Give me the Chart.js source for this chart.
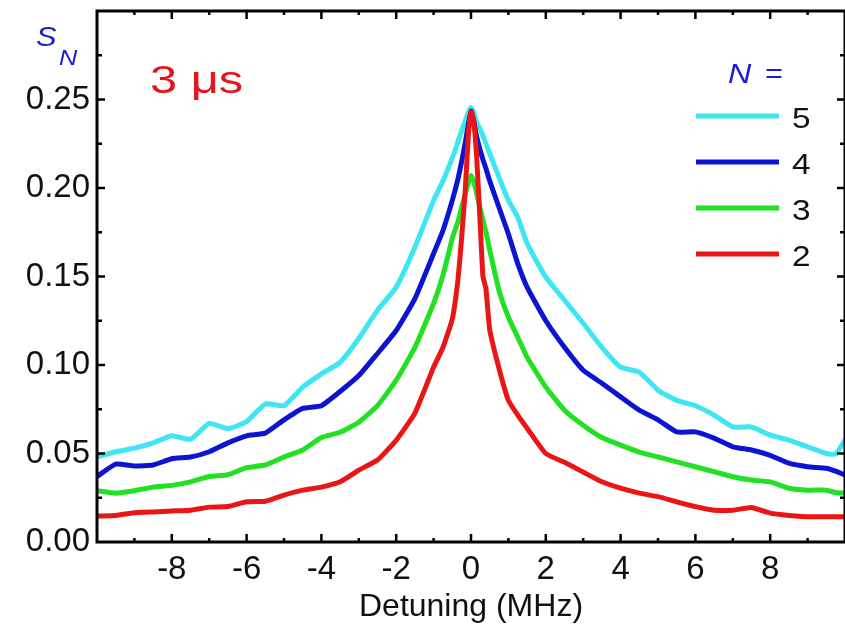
<!DOCTYPE html>
<html>
<head>
<meta charset="utf-8">
<script src="https://cdn.jsdelivr.net/npm/chart.js@4/dist/chart.umd.min.js"></script>
<style>
  html, body { margin: 0; padding: 0; background: #fff; overflow: hidden; }
  #wrap { width: 845px; height: 626px; position: relative; }
</style>
</head>
<body>
<div id="wrap"><canvas id="chart"></canvas></div>
<script>
// Detuning (MHz), shared by all curves
const detuning = [-10, -9.5, -9, -8.5, -8, -7.5, -7, -6.5, -6, -5.5, -5, -4.5, -4, -3.5, -3, -2.5, -2, -1.5, -1,
  -0.75, -0.5, -0.35, -0.25, -0.15, -0.07, 0, 0.07, 0.15, 0.25, 0.32, 0.4, 0.5, 0.75, 1, 1.25, 1.5,
  2, 2.5, 3, 3.5, 4, 4.5, 5, 5.5, 6, 6.5, 7, 7.5, 8, 8.5, 9, 9.5, 9.75, 10];

// S_N for N = 2, 3, 4, 5
const sN2 = [0.0147, 0.015, 0.0165, 0.017, 0.0175, 0.018, 0.0197, 0.020, 0.0227, 0.023, 0.0265, 0.0293, 0.031, 0.034, 0.0406, 0.0463, 0.0575, 0.0728, 0.0988,
  0.110, 0.126, 0.148, 0.172, 0.200, 0.230, 0.243, 0.238, 0.218, 0.178, 0.150, 0.143, 0.120, 0.098, 0.080, 0.0717, 0.0643,
  0.050, 0.045, 0.0395, 0.034, 0.0304, 0.0276, 0.0256, 0.0227, 0.020, 0.018, 0.018, 0.0195, 0.0163, 0.015, 0.0143, 0.0143, 0.0143, 0.0143];
const sN3 = [0.029, 0.0276, 0.029, 0.031, 0.032, 0.034, 0.037, 0.038, 0.042, 0.0435, 0.048, 0.052, 0.059, 0.062, 0.0677, 0.077, 0.0914, 0.110, 0.1348,
  0.1507, 0.1715, 0.181, 0.189, 0.197, 0.203, 0.207, 0.204, 0.197, 0.188, 0.182, 0.175, 0.165, 0.142, 0.127, 0.1157, 0.1044,
  0.0875, 0.0745, 0.066, 0.059, 0.0547, 0.0508, 0.048, 0.0453, 0.0425, 0.0397, 0.0369, 0.035, 0.034, 0.0304, 0.0293, 0.0293, 0.028, 0.0276];
const sN4 = [0.037, 0.044, 0.043, 0.0435, 0.047, 0.048, 0.051, 0.056, 0.060, 0.0615, 0.069, 0.0755, 0.077, 0.085, 0.094, 0.1065, 0.1195, 0.1375, 0.163,
  0.176, 0.193, 0.205, 0.215, 0.226, 0.236, 0.2435, 0.238, 0.229, 0.221, 0.216, 0.211, 0.204, 0.189, 0.174, 0.1573, 0.144,
  0.125, 0.110, 0.097, 0.0897, 0.082, 0.0745, 0.069, 0.0622, 0.0622, 0.0587, 0.0538, 0.052, 0.049, 0.0445, 0.0425, 0.0417, 0.040, 0.0378];
const sN5 = [0.048, 0.051, 0.053, 0.056, 0.060, 0.058, 0.067, 0.064, 0.068, 0.078, 0.077, 0.0875, 0.095, 0.1015, 0.115, 0.131, 0.144, 0.1665, 0.193,
  0.204, 0.217, 0.226, 0.2325, 0.238, 0.243, 0.2455, 0.243, 0.237, 0.233, 0.2295, 0.225, 0.2195, 0.206, 0.193, 0.1835, 0.1687,
  0.1496, 0.1366, 0.1236, 0.110, 0.0988, 0.096, 0.0858, 0.080, 0.077, 0.0717, 0.065, 0.065, 0.0604, 0.0576, 0.0538, 0.050, 0.0497, 0.0576];

// Legend labels and colours (top to bottom in the legend)
const legendLabels = ['5', '4', '3', '2'];
const legendColors = ['#3de6f2', '#0c14d2', '#22e022', '#ea1616'];

const FONT = "'Liberation Sans', Arial, sans-serif";

function toPoints(ys) {
  return detuning.map((x, i) => ({ x: x, y: ys[i] }));
}

// Draw text stretched horizontally (the original lettering is wide)
function wideText(ctx, text, x, y, sx) {
  ctx.save();
  ctx.translate(x, y);
  ctx.scale(sx, 1);
  ctx.fillText(text, 0, 0);
  ctx.restore();
}

// Frame plus inward ticks on all four sides
const frameTicks = {
  id: 'frameTicks',
  afterDatasetsDraw(chart) {
    const { ctx, chartArea: a, scales } = chart;
    const xs = scales.x, ys = scales.y;
    ctx.save();
    ctx.strokeStyle = '#000';
    ctx.lineWidth = 2.5;
    ctx.beginPath();
    for (let v = -10; v <= 10; v += 1) {
      if (v === -10 || v === 10) continue;
      const len = v % 2 === 0 ? 8 : 4;
      const px = xs.getPixelForValue(v);
      ctx.moveTo(px, a.bottom); ctx.lineTo(px, a.bottom - len);
      ctx.moveTo(px, a.top); ctx.lineTo(px, a.top + len);
    }
    for (let k = 1; k < 12; k++) {
      const v = k * 0.025;
      const len = k % 2 === 0 ? 8 : 5;
      const py = ys.getPixelForValue(v);
      ctx.moveTo(a.left, py); ctx.lineTo(a.left + len, py);
      ctx.moveTo(a.right, py); ctx.lineTo(a.right - len, py);
    }
    ctx.stroke();
    ctx.lineWidth = 3;
    ctx.strokeRect(a.left, a.top, a.right - a.left, a.bottom - a.top);
    ctx.restore();
  }
};

// Axis symbol, "3 μs" tag and the N = legend
const annotations = {
  id: 'annotations',
  afterDraw(chart) {
    const ctx = chart.ctx;
    ctx.save();
    ctx.textBaseline = 'alphabetic';
    ctx.textAlign = 'left';

    ctx.fillStyle = '#1c1cd4';
    ctx.font = 'italic 28px ' + FONT;
    wideText(ctx, 'S', 36, 46, 1.1);
    ctx.font = 'italic 22px ' + FONT;
    wideText(ctx, 'N', 59, 65, 1.15);

    ctx.fillStyle = '#e4161b';
    ctx.font = '39px ' + FONT;
    wideText(ctx, '3 \u03bcs', 150, 93, 1.25);

    ctx.fillStyle = '#1c1cd4';
    ctx.font = 'italic 28px ' + FONT;
    wideText(ctx, 'N', 728, 83, 1.15);
    ctx.font = '28px ' + FONT;
    wideText(ctx, '=', 765, 83, 1.1);

    const rowY = [116, 162, 208, 254];
    legendLabels.forEach((lab, i) => {
      ctx.strokeStyle = legendColors[i];
      ctx.lineWidth = 5;
      ctx.beginPath();
      ctx.moveTo(696, rowY[i]);
      ctx.lineTo(779, rowY[i]);
      ctx.stroke();
      ctx.fillStyle = '#111';
      ctx.font = '29px ' + FONT;
      wideText(ctx, lab, 792, rowY[i] + 11.5, 1.15);
    });
    ctx.restore();
  }
};

function makeSet(label, ys, color) {
  return {
    label: label,
    data: toPoints(ys),
    borderColor: color,
    backgroundColor: color,
    borderWidth: 5,
    pointRadius: 0,
    tension: 0.15,
    borderJoinStyle: 'round',
    borderCapStyle: 'round',
    fill: false
  };
}

const chart = new Chart(document.getElementById('chart'), {
  type: 'line',
  data: {
    // first dataset is drawn on top, so red goes first
    datasets: [
      makeSet('2', sN2, legendColors[3]),
      makeSet('3', sN3, legendColors[2]),
      makeSet('4', sN4, legendColors[1]),
      makeSet('5', sN5, legendColors[0])
    ]
  },
  options: {
    responsive: true,
    maintainAspectRatio: false,
    animation: false,
    layout: { padding: { top: 11, right: 0, left: 0, bottom: 0 } },
    plugins: {
      legend: { display: false },
      tooltip: { enabled: false }
    },
    scales: {
      x: {
        type: 'linear',
        min: -10,
        max: 10,
        afterFit: (s) => { s.height = 84; s.paddingLeft = 0; s.paddingRight = 0; },
        grid: { display: false, drawTicks: false },
        border: { display: false },
        ticks: {
          stepSize: 2,
          padding: 8,
          color: '#111',
          font: { family: FONT, size: 33 },
          maxRotation: 0,
          callback: (v) => (Math.abs(v) >= 10 ? '' : String(v))
        },
        title: {
          display: true,
          text: 'Detuning (MHz)',
          color: '#111',
          font: { family: FONT, size: 32 },
          padding: { top: 0, bottom: 0 }
        }
      },
      y: {
        min: 0,
        max: 0.3,
        afterFit: (s) => { s.width = 97; s.paddingTop = 0; s.paddingBottom = 0; },
        grid: { display: false, drawTicks: false },
        border: { display: false },
        ticks: {
          stepSize: 0.05,
          padding: 7,
          color: '#111',
          font: { family: FONT, size: 33 },
          callback: (v) => (v > 0.29 ? '' : v.toFixed(2))
        }
      }
    }
  },
  plugins: [frameTicks, annotations]
});
</script>
</body>
</html>
